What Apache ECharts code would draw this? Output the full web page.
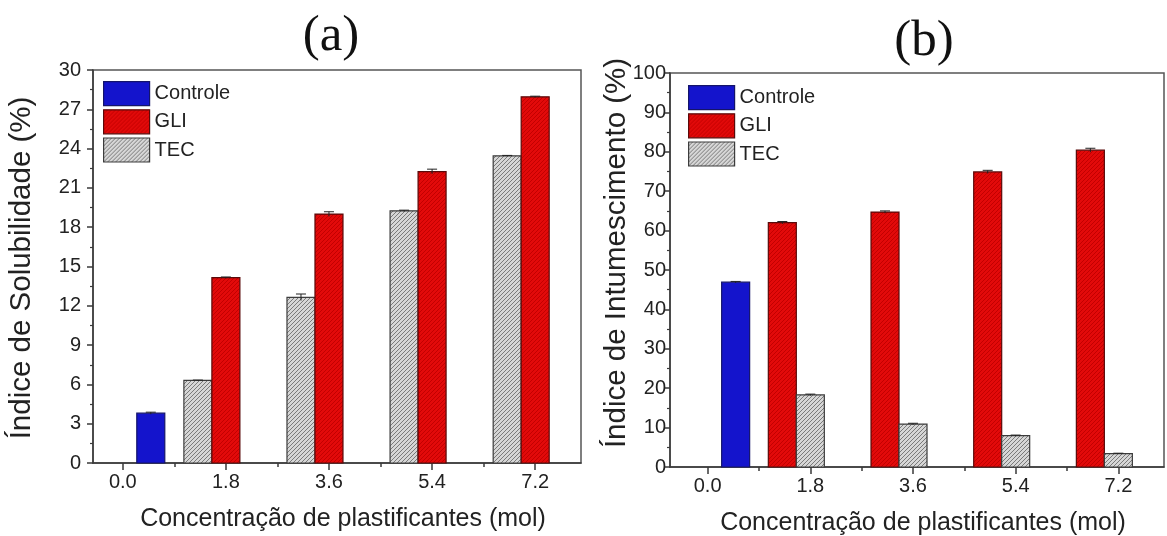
<!DOCTYPE html>
<html>
<head>
<meta charset="utf-8">
<script src="https://cdn.jsdelivr.net/npm/echarts@6/dist/echarts.min.js"></script>
<style>
  html, body { margin: 0; padding: 0; background: #fff; }
  #chart { width: 1167px; height: 536px; }
</style>
</head>
<body>
<div id="chart"></div>
<script>
// Plasticizer concentration (mol) and its tick labels
const concentrations = [0, 1.8, 3.6, 5.4, 7.2];
const tickLabels = ['0.0', '1.8', '3.6', '5.4', '7.2'];
const minorTicks = [0.9, 2.7, 4.5, 6.3];

// (a) Solubility index (%)
const solControle    = [3.8, null, null, null, null];
const solControleErr = [0.08, null, null, null, null];
const solGli         = [null, 14.15, 19.0, 22.25, 27.95];
const solGliErr      = [null, 0.05, 0.18, 0.18, 0.05];
const solTec         = [null, 6.3, 12.65, 19.25, 23.45];
const solTecErr      = [null, 0.03, 0.25, 0.05, 0.03];

// (b) Swelling index (%)
const swControle    = [46.9, null, null, null, null];
const swControleErr = [0.2, null, null, null, null];
const swGli         = [null, 62.0, 64.7, 74.9, 80.4];
const swGliErr      = [null, 0.3, 0.3, 0.4, 0.5];
const swTec         = [null, 18.3, 10.9, 7.95, 3.4];
const swTecErr      = [null, 0.2, 0.2, 0.15, 0.1];

const FONT = "'Liberation Sans', Arial, sans-serif";
const SERIF = "'Liberation Serif', 'Times New Roman', serif";
const TEXT = '#222';
const AXIS = '#3a3a3a';
const BAR_W = 28;

// diagonal hatch fill
function hatch(bg, line, step, width) {
  const c = document.createElement('canvas');
  c.width = step; c.height = step;
  const g = c.getContext('2d');
  g.fillStyle = bg; g.fillRect(0, 0, step, step);
  g.strokeStyle = line; g.lineWidth = width;
  g.beginPath();
  g.moveTo(-1, step + 1); g.lineTo(step + 1, -1);
  g.moveTo(-1, 1); g.lineTo(1, -1);
  g.moveTo(step - 1, step + 1); g.lineTo(step + 1, step - 1);
  g.stroke();
  return { image: c, repeat: 'repeat' };
}

const fills = {
  Controle: '#1414cc',
  GLI: hatch('#e20a0a', '#c20000', 4, 1),
  TEC: hatch('#d6d6d6', '#7a7a7a', 4, 1)
};
const borders = { Controle: '#14146a', GLI: '#5a0a0a', TEC: '#3c3c3c' };

function toData(vals, errs) {
  const out = [];
  vals.forEach((v, i) => { if (v !== null) out.push([concentrations[i], v, errs[i]]); });
  return out;
}

function barSeries(name, idx, vals, errs, slot) {
  return {
    type: 'custom', name: name, xAxisIndex: idx * 2, yAxisIndex: idx,
    data: toData(vals, errs),
    itemStyle: { color: fills[name], borderColor: borders[name] },
    renderItem: function (params, api) {
      const x = api.value(0), y = api.value(1), e = api.value(2);
      const base = api.coord([x, 0]);
      const top = api.coord([x, y]);
      const hi = api.coord([x, y + e]);
      const lo = api.coord([x, y - e]);
      const cx = base[0] + slot * BAR_W;
      return {
        type: 'group',
        children: [
          {
            type: 'rect',
            shape: { x: cx - BAR_W / 2, y: top[1], width: BAR_W, height: base[1] - top[1] },
            style: { fill: fills[name], stroke: borders[name], lineWidth: 1.2 }
          },
          {
            type: 'polyline',
            shape: { points: [[cx, lo[1]], [cx, hi[1]]] },
            style: { stroke: '#222', lineWidth: 1, fill: null }
          },
          {
            type: 'polyline',
            shape: { points: [[cx - 5, hi[1]], [cx + 5, hi[1]]] },
            style: { stroke: '#222', lineWidth: 1, fill: null }
          }
        ]
      };
    }
  };
}

function xAxes(gridIndex, min, max) {
  return [
    {
      type: 'value', gridIndex: gridIndex, min: min, max: max, position: 'bottom',
      name: 'Concentração de plastificantes (mol)', nameLocation: 'middle', nameGap: 44,
      nameTextStyle: { fontFamily: FONT, fontSize: 25, color: TEXT, padding: [0, 0, 0, 12] },
      axisLine: { show: true, onZero: false, lineStyle: { color: AXIS, width: 1.5 } },
      axisTick: { show: true, customValues: concentrations, length: 7, lineStyle: { color: AXIS, width: 1.5 } },
      axisLabel: {
        customValues: concentrations, margin: 9,
        fontFamily: FONT, fontSize: 20, color: TEXT,
        formatter: v => tickLabels[concentrations.indexOf(+v.toFixed(1))]
      },
      splitLine: { show: false }
    },
    {
      type: 'value', gridIndex: gridIndex, min: min, max: max, position: 'bottom',
      axisLine: { show: false, onZero: false },
      axisTick: { show: true, customValues: minorTicks, length: 4, lineStyle: { color: AXIS, width: 1.5 } },
      axisLabel: { show: false },
      splitLine: { show: false }
    }
  ];
}

function yAxis(gridIndex, max, interval, labelMargin) {
  return {
    type: 'value', gridIndex: gridIndex, min: 0, max: max, interval: interval,
    position: 'left',
    axisLine: { show: true, onZero: false, lineStyle: { color: AXIS, width: 1.5 } },
    axisTick: { show: true, length: 6, lineStyle: { color: AXIS, width: 1.5 } },
    minorTick: { show: true, splitNumber: 2, length: 3, lineStyle: { color: AXIS, width: 1.2 } },
    axisLabel: { fontFamily: FONT, fontSize: 20, color: TEXT, margin: labelMargin },
    splitLine: { show: false }
  };
}

// vertical axis title
function yTitle(text, x, y) {
  return {
    type: 'text', x: x, y: y, rotation: Math.PI / 2, silent: true,
    style: {
      text: text, fontFamily: FONT, fontSize: 29.5, fill: TEXT,
      textAlign: 'center', textVerticalAlign: 'middle'
    }
  };
}

function legend(left, top, names) {
  return {
    orient: 'vertical', left: left, top: top, padding: 0,
    itemWidth: 46, itemHeight: 24, itemGap: 3, icon: 'rect',
    selectedMode: false,
    textStyle: { fontFamily: FONT, fontSize: 20, color: TEXT },
    data: names.map(n => ({
      name: n,
      itemStyle: { color: fills[n], borderColor: borders[n], borderWidth: 1.2 }
    }))
  };
}

const chart = echarts.init(document.getElementById('chart'), null, { renderer: 'canvas' });

chart.setOption({
  animation: false,
  backgroundColor: '#fff',
  title: [
    { text: '(a)', left: 326, top: 6, textAlign: 'center',
      textStyle: { fontFamily: SERIF, fontSize: 51, fontWeight: 'normal', color: '#111' } },
    { text: '(b)', left: 919, top: 11, textAlign: 'center',
      textStyle: { fontFamily: SERIF, fontSize: 51, fontWeight: 'normal', color: '#111' } }
  ],
  legend: [
    legend(103, 81, ['Controle', 'GLI', 'TEC']),
    legend(688, 85, ['Controle', 'GLI', 'TEC'])
  ],
  grid: [
    { left: 93, top: 70, width: 488, height: 393, show: true, borderColor: '#555', borderWidth: 1.5, outerBoundsMode: 'none' },
    { left: 670, top: 73, width: 494, height: 394, show: true, borderColor: '#555', borderWidth: 1.5, outerBoundsMode: 'none' }
  ],
  xAxis: [].concat(xAxes(0, -0.52, 8.0), xAxes(1, -0.66, 8.0)),
  yAxis: [
    yAxis(0, 30, 3, 12),
    yAxis(1, 100, 10, 4)
  ],
  graphic: [
    yTitle('Índice de Solubilidade (%)', 22, 268),
    yTitle('Índice de Intumescimento (%)', 617, 253)
  ],
  series: [
    barSeries('Controle', 0, solControle, solControleErr, 1),
    barSeries('TEC', 0, solTec, solTecErr, -1),
    barSeries('GLI', 0, solGli, solGliErr, 0),
    barSeries('Controle', 1, swControle, swControleErr, 1),
    barSeries('GLI', 1, swGli, swGliErr, -1),
    barSeries('TEC', 1, swTec, swTecErr, 0)
  ]
});
</script>
</body>
</html>
